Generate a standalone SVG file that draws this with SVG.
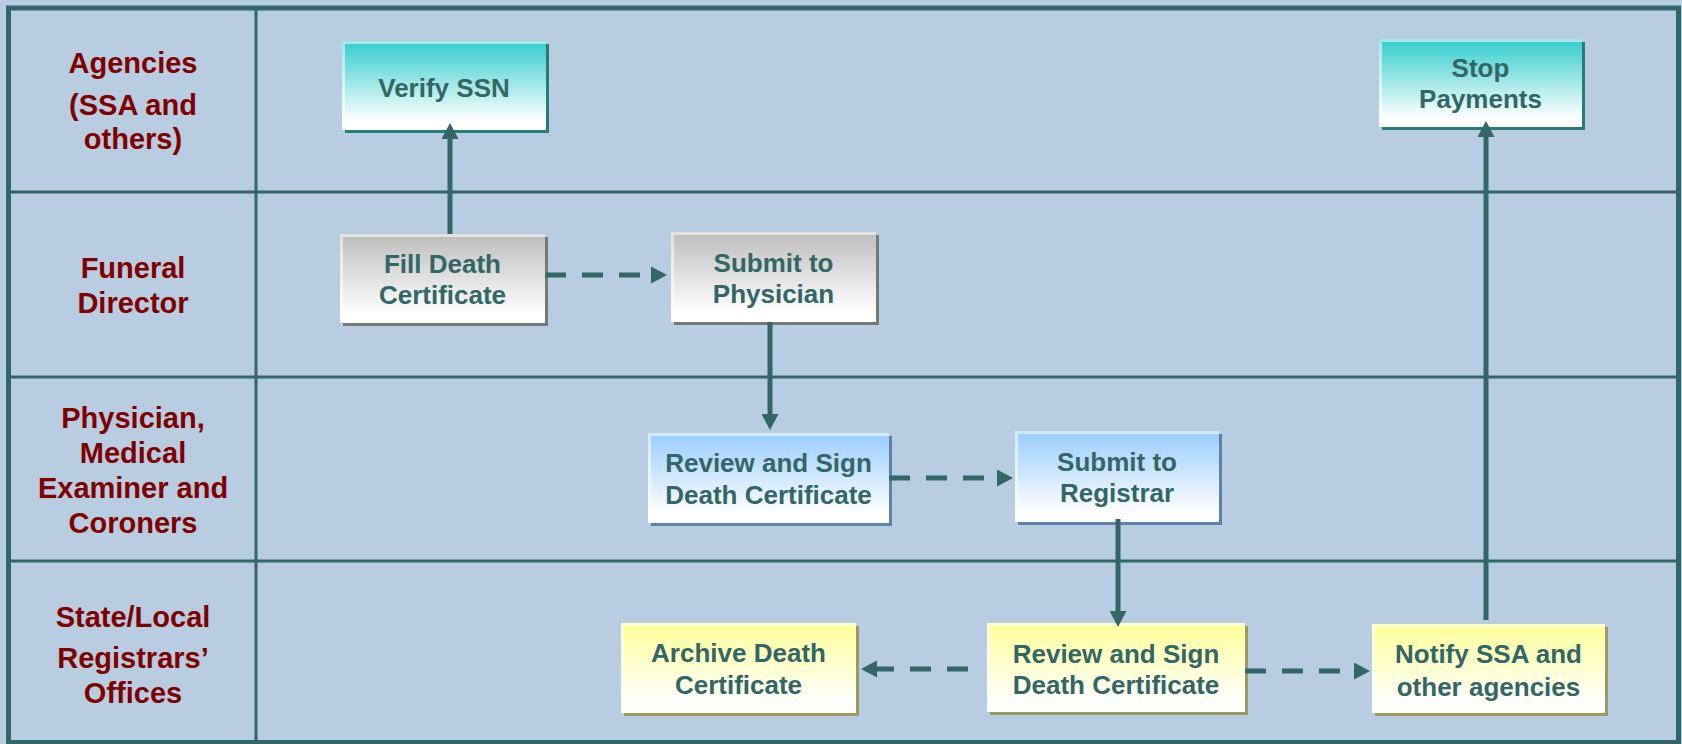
<svg xmlns="http://www.w3.org/2000/svg" width="1682" height="744" viewBox="0 0 1682 744">
<defs>
<linearGradient id="gTeal" x1="0" y1="0" x2="0" y2="1"><stop offset="0" stop-color="#33cccc"/><stop offset="0.9" stop-color="#ffffff"/></linearGradient>
<linearGradient id="gGray" x1="0" y1="0" x2="0" y2="1"><stop offset="0" stop-color="#bdbdbd"/><stop offset="0.9" stop-color="#ffffff"/></linearGradient>
<linearGradient id="gBlue" x1="0" y1="0" x2="0" y2="1"><stop offset="0" stop-color="#99ccff"/><stop offset="0.9" stop-color="#ffffff"/></linearGradient>
<linearGradient id="gYellow" x1="0" y1="0" x2="0" y2="1"><stop offset="0" stop-color="#ffff99"/><stop offset="0.9" stop-color="#ffffff"/></linearGradient>
<marker id="arr" markerUnits="userSpaceOnUse" markerWidth="17" markerHeight="17" refX="0" refY="8.5" orient="auto" viewBox="0 0 17 17">
<path d="M0,0 L16,8.5 L0,17 z" fill="#336666"/>
</marker>
<style>
.lane{stroke:#336666;stroke-width:3;fill:none}
.border{stroke:#336666;stroke-width:5;fill:none}
.lbl{font-family:"Liberation Sans",Arial,sans-serif;font-weight:bold;font-size:29px;fill:#800000;text-anchor:middle}
.txt{font-family:"Liberation Sans",Arial,sans-serif;font-weight:bold;font-size:26px;fill:#336666;text-anchor:middle}
.hl{fill:none;stroke:#ffffff;stroke-opacity:0.55;stroke-width:3}
.con{stroke:#336666;stroke-width:5;fill:none;marker-end:url(#arr)}
.dash{stroke-dasharray:21 16}
.shT{fill:#2a7b78}.shG{fill:#777777}.shB{fill:#5f82a4}.shY{fill:#9c9a5e}
</style>
</defs>
<rect x="0" y="0" width="1682" height="744" fill="#b8cce2"/>
<g id="lanes">
<line class="lane" x1="256" y1="8" x2="256" y2="742"/>
<line class="lane" x1="8" y1="192" x2="1678" y2="192"/>
<line class="lane" x1="8" y1="377" x2="1678" y2="377"/>
<line class="lane" x1="8" y1="561" x2="1678" y2="561"/>
<rect class="border" x="8.5" y="8" width="1670" height="734.5"/>
</g>
<g id="lane-labels">
<text class="lbl" x="133" y="73">Agencies</text>
<text class="lbl" x="133" y="115">(SSA and</text>
<text class="lbl" x="133" y="149">others)</text>
<text class="lbl" x="133" y="278">Funeral</text>
<text class="lbl" x="133" y="313">Director</text>
<text class="lbl" x="133" y="428">Physician,</text>
<text class="lbl" x="133" y="463">Medical</text>
<text class="lbl" x="133" y="498">Examiner and</text>
<text class="lbl" x="133" y="533">Coroners</text>
<text class="lbl" x="133" y="627">State/Local</text>
<text class="lbl" x="133" y="668">Registrars’</text>
<text class="lbl" x="133" y="703">Offices</text>
</g>
<g id="verify-ssn">
<rect class="shT" x="345" y="44" width="204" height="89"/>
<rect x="342" y="41" width="204" height="89" fill="url(#gTeal)"/>
<path class="hl" d="M343.5,130 V42.5 H546"/>
<text class="txt" x="444" y="97">Verify SSN</text>
</g>
<g id="stop-payments">
<rect class="shT" x="1382" y="42" width="203" height="88"/>
<rect x="1379" y="39" width="203" height="88" fill="url(#gTeal)"/>
<path class="hl" d="M1380.5,127 V40.5 H1582"/>
<text class="txt" x="1480.5" y="77">Stop</text>
<text class="txt" x="1480.5" y="108">Payments</text>
</g>
<g id="fill-death-certificate">
<rect class="shG" x="343" y="237" width="205" height="89"/>
<rect x="340" y="234" width="205" height="89" fill="url(#gGray)"/>
<path class="hl" d="M341.5,323 V235.5 H545"/>
<text class="txt" x="442.5" y="273">Fill Death</text>
<text class="txt" x="442.5" y="304">Certificate</text>
</g>
<g id="submit-to-physician">
<rect class="shG" x="674" y="235" width="205" height="90"/>
<rect x="671" y="232" width="205" height="90" fill="url(#gGray)"/>
<path class="hl" d="M672.5,322 V233.5 H876"/>
<text class="txt" x="773.5" y="272">Submit to</text>
<text class="txt" x="773.5" y="303">Physician</text>
</g>
<g id="physician-review-sign">
<rect class="shB" x="651" y="436" width="241" height="90"/>
<rect x="648" y="433" width="241" height="90" fill="url(#gBlue)"/>
<path class="hl" d="M649.5,523 V434.5 H889"/>
<text class="txt" x="768.5" y="472">Review and Sign</text>
<text class="txt" x="768.5" y="504">Death Certificate</text>
</g>
<g id="submit-to-registrar">
<rect class="shB" x="1018" y="434" width="204" height="91"/>
<rect x="1015" y="431" width="204" height="91" fill="url(#gBlue)"/>
<path class="hl" d="M1016.5,522 V432.5 H1219"/>
<text class="txt" x="1117" y="471">Submit to</text>
<text class="txt" x="1117" y="502">Registrar</text>
</g>
<g id="archive-death-certificate">
<rect class="shY" x="624" y="626" width="235" height="90"/>
<rect x="621" y="623" width="235" height="90" fill="url(#gYellow)"/>
<path class="hl" d="M622.5,713 V624.5 H856"/>
<text class="txt" x="738.5" y="662">Archive Death</text>
<text class="txt" x="738.5" y="694">Certificate</text>
</g>
<g id="registrar-review-sign">
<rect class="shY" x="990" y="626" width="258" height="89"/>
<rect x="987" y="623" width="258" height="89" fill="url(#gYellow)"/>
<path class="hl" d="M988.5,712 V624.5 H1245"/>
<text class="txt" x="1116" y="663">Review and Sign</text>
<text class="txt" x="1116" y="694">Death Certificate</text>
</g>
<g id="notify-ssa">
<rect class="shY" x="1375" y="627" width="233" height="89"/>
<rect x="1372" y="624" width="233" height="89" fill="url(#gYellow)"/>
<path class="hl" d="M1373.5,713 V625.5 H1605"/>
<text class="txt" x="1488.5" y="663">Notify SSA and</text>
<text class="txt" x="1488.5" y="696">other agencies</text>
</g>
<g id="connectors">
<line class="con" x1="450" y1="234" x2="450" y2="139"/>
<line class="con dash" x1="545" y1="275" x2="651" y2="275"/>
<line class="con" x1="770" y1="322" x2="770" y2="414"/>
<line class="con dash" x1="889" y1="478" x2="997" y2="478"/>
<line class="con" x1="1118" y1="519" x2="1118" y2="611"/>
<line class="con dash" x1="968" y1="669" x2="877" y2="669"/>
<line class="con dash" x1="1245" y1="671" x2="1354" y2="671"/>
<line class="con" x1="1486" y1="620" x2="1486" y2="137"/>
</g>
</svg>
